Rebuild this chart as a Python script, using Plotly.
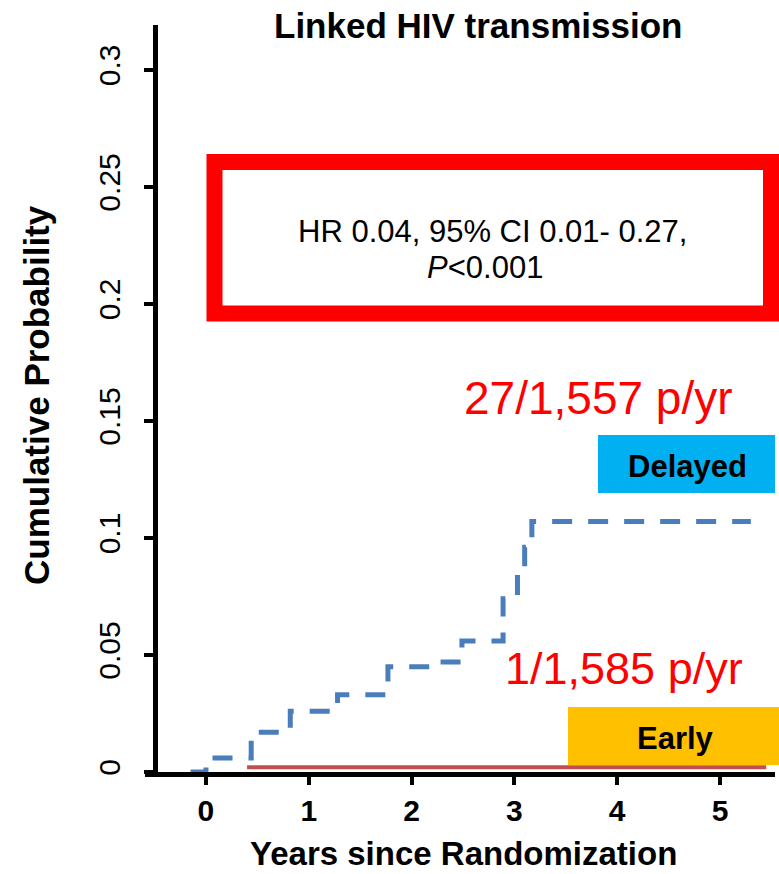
import plotly.graph_objects as go

# ---------------- data ----------------
years_delayed = [-0.15, 0.0, 0.44, 0.82, 1.28, 1.77, 2.2, 2.49, 2.89, 3.03, 3.1, 3.17, 5.3]
cumprob_delayed = [0.0, 0.006, 0.017, 0.026, 0.033, 0.045, 0.047, 0.056, 0.074, 0.085, 0.096, 0.107, 0.107]

years_early = [0.4, 5.45]
cumprob_early = [0.002, 0.002]

x_ticks = [0, 1, 2, 3, 4, 5]
y_ticks = [0, 0.05, 0.1, 0.15, 0.2, 0.25, 0.3]
y_tick_labels = ["0", "0.05", "0.1", "0.15", "0.2", "0.25", "0.3"]

title_text = "Linked HIV transmission"
x_title = "Years since Randomization"
y_title = "Cumulative Probability"
hr_line1 = "HR 0.04, 95% CI 0.01- 0.27,"
hr_line2 = "<i>P</i><0.001"
delayed_rate = "27/1,557 p/yr"
early_rate = "1/1,585 p/yr"

# ---------------- layout geometry (pixels) ----------------
W, H = 779, 874
L, R, T, B = 145, 775, 25, 772   # plot area in pixels


def px(xp):
    return (xp - L) / (R - L)


def py(yp):
    return (B - yp) / (B - T)


FONT = "Arial, Liberation Sans, sans-serif"

fig = go.Figure()

fig.add_trace(go.Scatter(
    x=years_early, y=cumprob_early, mode="lines",
    line=dict(color="#C0504D", width=4, shape="hv"),
    showlegend=False, hoverinfo="skip"))

fig.add_trace(go.Scatter(
    x=years_delayed, y=cumprob_delayed, mode="lines",
    line=dict(color="#4A7EBB", width=5, shape="hv", dash="20px,16px"),
    showlegend=False, hoverinfo="skip"))

shapes = [
    # red HR box
    dict(type="rect", xref="paper", yref="paper",
         x0=px(214.5), x1=px(771), y0=py(313.5), y1=py(162),
         line=dict(color="#FF0000", width=16), fillcolor="white", layer="above"),
    # Delayed legend box
    dict(type="rect", xref="paper", yref="paper",
         x0=px(598), x1=px(775), y0=py(493), y1=py(435),
         line=dict(width=0), fillcolor="#00B0F0", layer="above"),
    # Early legend box
    dict(type="rect", xref="paper", yref="paper",
         x0=px(568), x1=px(781), y0=py(765), y1=py(707),
         line=dict(width=0), fillcolor="#FFC000", layer="above"),
]


def ann(text, xp, yp, size, color="black", bold=False, angle=0):
    t = f"<b>{text}</b>" if bold else text
    return dict(text=t, x=px(xp), y=py(yp), xref="paper", yref="paper",
                xanchor="center", yanchor="middle", showarrow=False,
                textangle=angle, borderpad=0,
                font=dict(family=FONT, size=size, color=color))


annotations = [
    ann(hr_line1, 492, 231, 31),
    ann(hr_line2, 485, 267, 31),
    ann(delayed_rate, 598, 398, 46, color="#FF0000"),
    ann(early_rate, 624, 668, 45, color="#FF0000"),
    ann("Delayed", 687, 466, 31, bold=True),
    ann("Early", 675, 738, 31, bold=True),
    ann(x_title, 463, 853, 33, bold=True),
    ann(y_title, 36, 395, 35, bold=True, angle=-90),
    ann(title_text, 478, 25, 35, bold=True),
]

fig.update_layout(
    width=W, height=H,
    margin=dict(l=L, r=W - R, t=T, b=H - B, pad=0),
    paper_bgcolor="white", plot_bgcolor="white",
    showlegend=False,
    shapes=shapes, annotations=annotations,
    xaxis=dict(
        range=[-0.593, 5.535], tickvals=x_ticks, ticktext=[str(v) for v in x_ticks],
        showgrid=False, zeroline=False, showline=True, linecolor="black", linewidth=5,
        ticks="outside", ticklen=8, tickwidth=4, tickcolor="black",
        tickfont=dict(family=FONT, size=30, color="black", weight="bold"),
        ticklabelstandoff=0, layer="below traces",
    ),
    yaxis=dict(
        range=[0, 0.3192], tickvals=y_ticks, ticktext=y_tick_labels,
        anchor="free", position=px(154.5),
        showgrid=False, zeroline=False, showline=True, linecolor="black", linewidth=5,
        ticks="outside", ticklen=9, tickwidth=4, tickcolor="black",
        tickangle=-90, tickfont=dict(family=FONT, size=30, color="black"),
        ticklabelstandoff=12, layer="below traces",
    ),
)

fig.write_html("out.html")
